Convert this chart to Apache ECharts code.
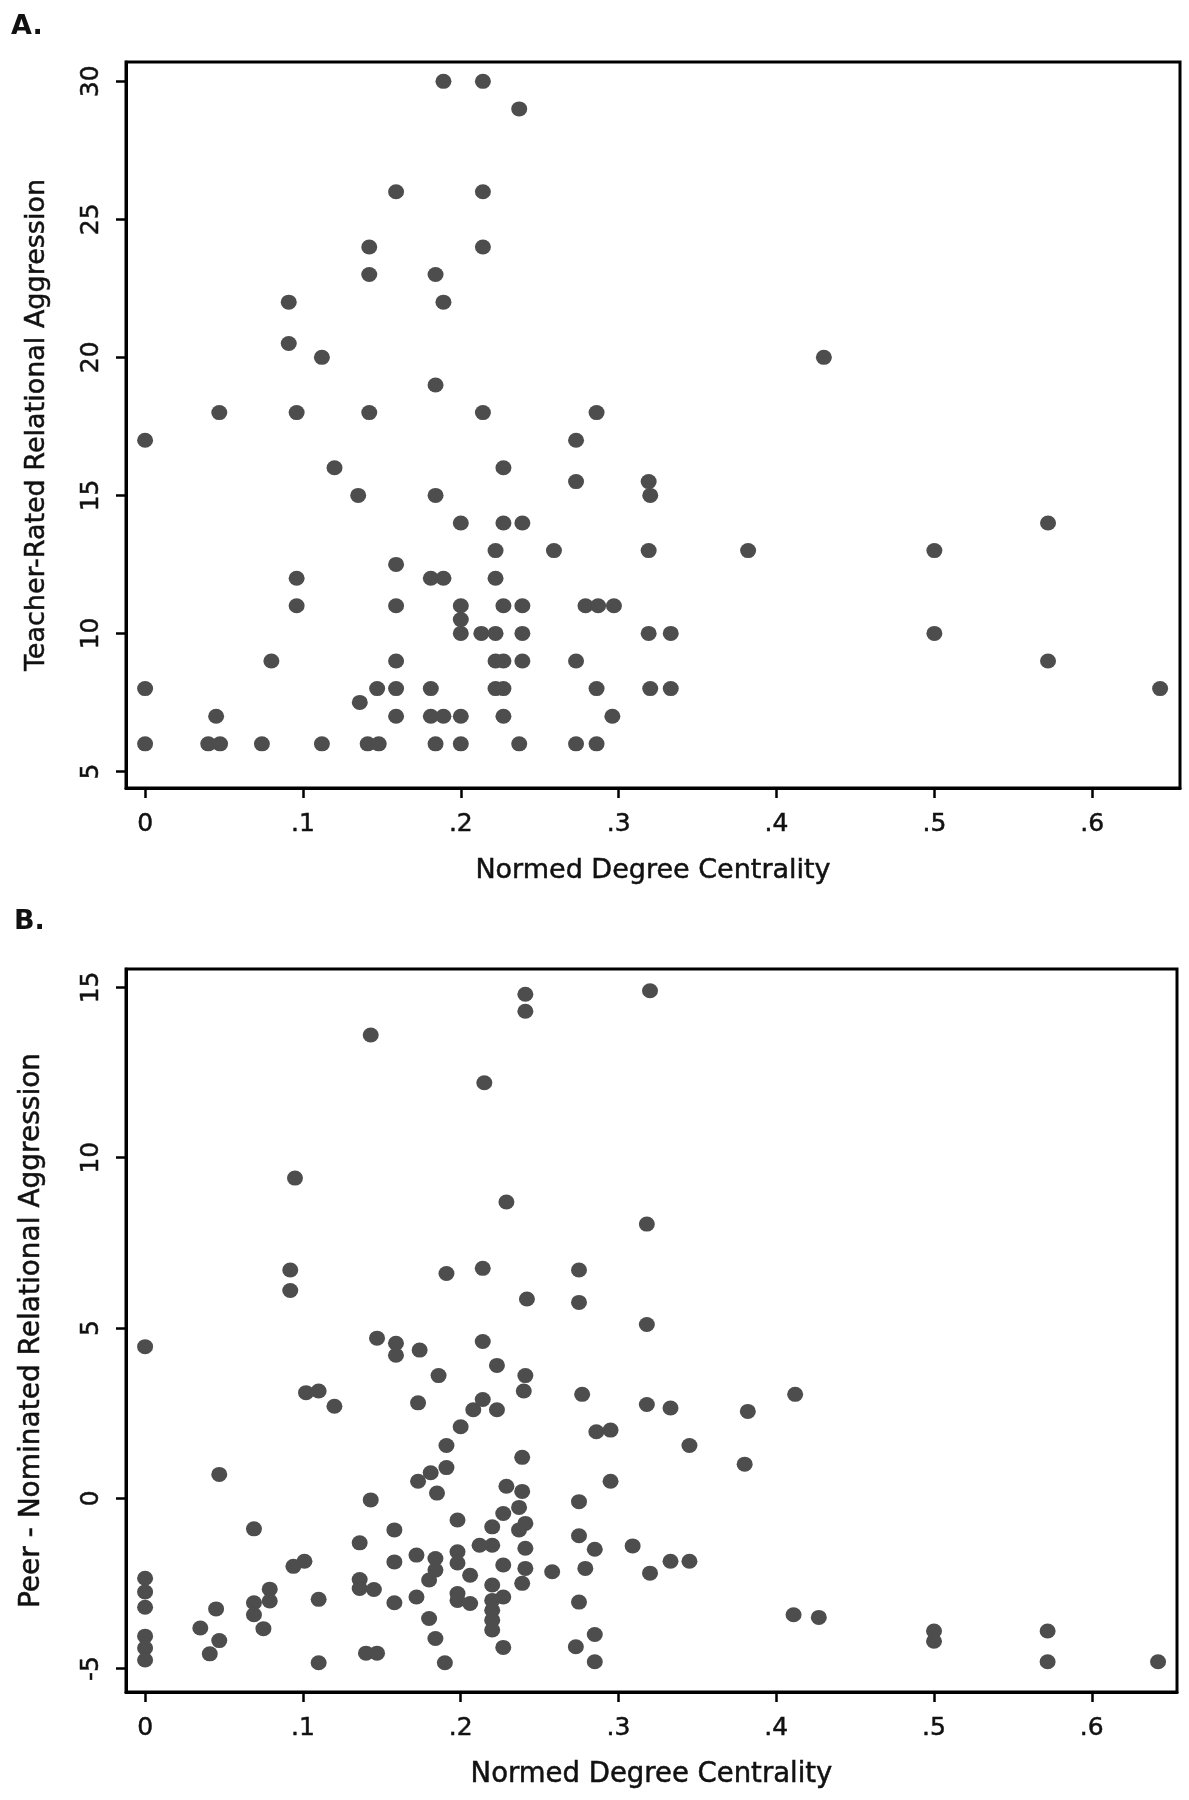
<!DOCTYPE html>
<html>
<head>
<meta charset="utf-8">
<script src="https://cdn.jsdelivr.net/npm/echarts@6.0.0/dist/echarts.min.js"></script>
<style>
html,body{margin:0;padding:0;background:#fff;}
#chart{width:1189px;height:1800px;}
</style>
</head>
<body>
<div id="chart"></div>
<script>
// ---------- Data ----------
// Panel A: Normed degree centrality vs teacher-rated relational aggression
const aDegree = [0.189,0.214,0.237,0.159,0.214,0.142,0.214,0.142,0.184,0.091,0.189,0.091,0.112,0.43,0.184,0.047,0.096,0.142,0.214,0.286,
  0,0.273,0.12,0.227,0.273,0.319,0.135,0.184,0.32,0.2,0.227,0.239,0.572,0.222,0.259,0.319,0.382,0.5,0.159,0.096,
  0.181,0.189,0.222,0.096,0.159,0.2,0.227,0.239,0.279,0.287,0.297,0.2,0.2,0.213,0.222,0.239,0.319,0.333,0.5,0.08,
  0.159,0.222,0.227,0.239,0.273,0.572,0,0.147,0.159,0.181,0.222,0.227,0.286,0.32,0.333,0.643,0.136,0.045,0.159,0.181,
  0.189,0.2,0.227,0.296,0,0.04,0.0475,0.074,0.112,0.141,0.148,0.184,0.2,0.237,0.273,0.286];
const aTeacher = [30,30,29,26,26,24,24,23,23,22,22,20.5,20,20,19,18,18,18,18,18,
  17,17,16,16,15.5,15.5,15,15,15,14,14,14,14,13,13,13,13,13,12.5,12,
  12,12,12,11,11,11,11,11,11,11,11,10.5,10,10,10,10,10,10,10,9,
  9,9,9,9,9,9,8,8,8,8,8,8,8,8,8,8,7.5,7,7,7,
  7,7,7,7,6,6,6,6,6,6,6,6,6,6,6,6];

// Panel B: Normed degree centrality vs peer-nominated relational aggression
const bDegree = [0.241,0.241,0.32,0.143,0.215,0.095,0.229,0.318,0.092,0.092,0.191,0.214,0.275,0.242,0.275,0.318,
  0,0.147,0.159,0.159,0.174,0.214,0.223,0.186,0.241,0.24,0.277,0.102,0.11,0.12,0.173,0.214,0.208,0.223,0.286,0.295,
  0.2,0.191,0.239,0.047,0.191,0.181,0.173,0.185,0.229,0.239,0.143,0.275,0.318,0.333,0.382,0.412,0.345,0.38,0.295,
  0.237,0.227,0.198,0.241,0.237,0.22,0.158,0.136,0.212,0.22,0.275,0.241,0.172,0.158,0.184,0.198,0.198,0.227,0.241,
  0.258,0.279,0.184,0.18,0.206,0.136,0.136,0.145,0.239,0.22,0.227,0.172,0.198,0.198,0.206,0.158,0.22,0.22,0.22,0.22,
  0.275,0.18,0.184,0.227,0.273,0.14,0.147,0.19,0.285,0.309,0.333,0.345,0.32,0.285,0.285,
  0.069,0.094,0.101,0,0,0,0,0,0,0.045,0.035,0.047,0.041,0.069,0.069,0.079,0.079,0.075,0.11,0.11,
  0.411,0.427,0.5,0.5,0.572,0.572,0.642];
const bPeer = [14.8,14.3,14.9,13.6,12.2,9.4,8.7,8.05,6.7,6.1,6.6,6.75,6.7,5.85,5.75,5.1,
  4.45,4.7,4.55,4.2,4.35,4.6,3.9,3.6,3.6,3.15,3.05,3.1,3.15,2.7,2.8,2.9,2.6,2.6,1.95,2.0,
  2.1,1.55,1.2,0.7,0.9,0.75,0.5,0.15,0.35,0.2,-0.05,-0.1,2.75,2.65,2.55,3.05,1.55,1.0,0.5,
  -0.27,-0.45,-0.64,-0.74,-0.93,-0.84,-0.93,-1.31,-1.38,-1.38,-1.1,-1.47,-1.67,-1.87,-1.77,-1.57,-1.9,-1.96,-2.06,
  -2.16,-2.06,-2.11,-2.4,-2.26,-2.39,-2.65,-2.68,-2.5,-2.55,-2.9,-2.9,-2.8,-3.0,-3.09,-3.07,-3.0,-3.29,-3.58,-3.87,
  -3.05,-3.53,-4.12,-4.38,-4.36,-4.55,-4.55,-4.83,-1.5,-1.4,-1.85,-1.85,-2.2,-4.0,-4.8,
  -0.9,-2.0,-1.85,-2.35,-2.75,-3.2,-4.05,-4.4,-4.75,-3.25,-3.81,-4.18,-4.57,-3.07,-3.42,-2.67,-3.02,-3.83,-2.97,-4.83,
  -3.42,-3.5,-3.9,-4.2,-3.9,-4.8,-4.8];

// Tick values
const xTicks = [0, 0.1, 0.2, 0.3, 0.4, 0.5, 0.6];
const aYTicks = [5, 10, 15, 20, 25, 30];
const bYTicks = [-5, 0, 5, 10, 15];

// ---------- Chart ----------
const FONT = 'DejaVu Sans';
const TXT = '#111';
const DOT = '#4d4d4d';

function zip(xs, ys) { return xs.map((x, i) => [x, ys[i]]); }
function xFmt(v) { return Math.abs(v) < 1e-9 ? '0' : '.' + Math.round(v * 10); }
function ts(fs) { return { fontFamily: FONT, fontSize: fs, color: TXT, textBorderColor: TXT, textBorderWidth: 0.5 }; }

function xAxis(gridIndex, min, max, nameGap, fs) {
  return {
    type: 'value', gridIndex, min, max,
    name: 'Normed Degree Centrality', nameLocation: 'middle', nameGap,
    nameTextStyle: ts(fs),
    axisLine: { show: true, onZero: false, lineStyle: { color: '#000', width: 3 } },
    axisTick: { show: true, customValues: xTicks, length: 10, lineStyle: { color: '#000', width: 2.5 } },
    axisLabel: Object.assign({ customValues: xTicks, formatter: xFmt, margin: 24 }, ts(25)),
    splitLine: { show: false }
  };
}
function yAxis(gridIndex, min, max, ticks, name, nameGap, fs) {
  return {
    type: 'value', gridIndex, min, max,
    name, nameLocation: 'middle', nameGap,
    nameTextStyle: ts(fs),
    axisLine: { show: true, onZero: false, lineStyle: { color: '#000', width: 3 } },
    axisTick: { show: true, customValues: ticks, length: 10, lineStyle: { color: '#000', width: 2.5 } },
    axisLabel: Object.assign({ customValues: ticks, rotate: 90, margin: 22 }, ts(25)),
    splitLine: { show: false }
  };
}

const chart = echarts.init(document.getElementById('chart'), null, { renderer: 'canvas' });
chart.setOption({
  animation: false,
  backgroundColor: '#fff',
  title: [
    { text: 'A.', left: 6, top: 8, textStyle: { fontFamily: FONT, fontSize: 27, fontWeight: 'bold', color: TXT } },
    { text: 'B.', left: 9, top: 903, textStyle: { fontFamily: FONT, fontSize: 27, fontWeight: 'bold', color: TXT } }
  ],
  grid: [
    { left: 126, top: 62, width: 1054, height: 726, show: true, borderColor: '#000', borderWidth: 3, backgroundColor: 'transparent' },
    { left: 126, top: 969, width: 1051, height: 723, show: true, borderColor: '#000', borderWidth: 3, backgroundColor: 'transparent' }
  ],
  xAxis: [
    xAxis(0, -0.0121, 0.6556, 69, 27),
    xAxis(1, -0.0121, 0.654, 69, 27.5)
  ],
  yAxis: [
    yAxis(0, 4.40, 30.70, aYTicks, 'Teacher-Rated Relational Aggression', 76, 27),
    yAxis(1, -5.69, 15.54, bYTicks, 'Peer - Nominated Relational Aggression', 80, 28)
  ],
  series: [
    { type: 'scatter', xAxisIndex: 0, yAxisIndex: 0, data: zip(aDegree, aTeacher),
      symbol: 'circle', symbolSize: [16, 15], itemStyle: { color: DOT, opacity: 1 } },
    { type: 'scatter', xAxisIndex: 1, yAxisIndex: 1, data: zip(bDegree, bPeer),
      symbol: 'circle', symbolSize: [16, 15], itemStyle: { color: DOT, opacity: 1 } }
  ]
});
</script>
</body>
</html>
